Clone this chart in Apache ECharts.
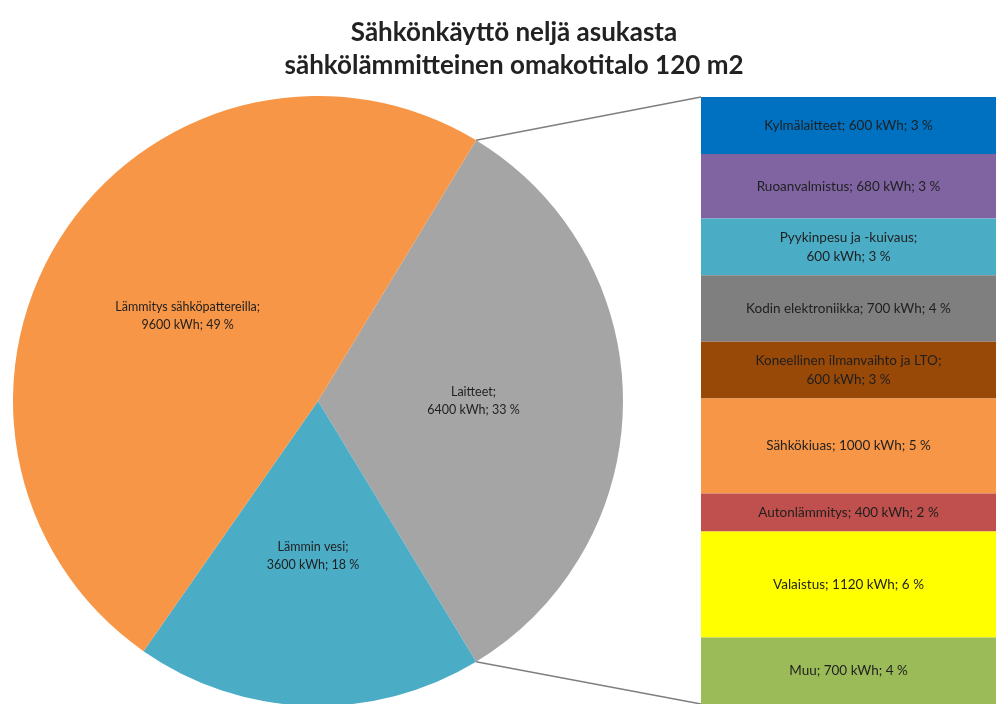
<!DOCTYPE html>
<html>
<head>
<meta charset="utf-8">
<script src="https://cdn.jsdelivr.net/npm/echarts@6/dist/echarts.min.js"></script>
<style>
html,body{margin:0;padding:0;background:#fff;}
#main{width:996px;height:704px;}
</style>
</head>
<body>
<div id="main"></div>
<script>
// ---- data ----
const titleLines = ['Sähkönkäyttö neljä asukasta', 'sähkölämmitteinen omakotitalo 120 m2'];
const pieNames = ['Laitteet', 'Lämmin vesi', 'Lämmitys sähköpattereilla'];
const pieValues = [6400, 3600, 9600];
const pieColors = ['#A5A5A5', '#4BACC6', '#F79646'];
const barNames = ['Kylmälaitteet', 'Ruoanvalmistus', 'Pyykinpesu ja -kuivaus', 'Kodin elektroniikka',
  'Koneellinen ilmanvaihto ja LTO', 'Sähkökiuas', 'Autonlämmitys', 'Valaistus', 'Muu'];
const barValues = [600, 680, 600, 700, 600, 1000, 400, 1120, 700];
const barColors = ['#0070C0', '#8064A2', '#4BACC6', '#7F7F7F', '#984807', '#F79646', '#C0504D', '#FFFF00', '#9BBB59'];

// ---- layout ----
const FONT = 'Lato, "Open Sans", sans-serif';
const pieCenter = [318, 401];
const pieRadius = 305;
const gridLeft = 701;

const total = pieValues.reduce((a, b) => a + b, 0);
const barTotal = barValues.reduce((a, b) => a + b, 0);
const halfAngle = pieValues[0] / total * 360 / 2;
const pct = v => Math.round(v / total * 100) + ' %';

const chart = echarts.init(document.getElementById('main'), null, {renderer: 'canvas'});

const barSeries = barNames.map((n, i) => ({
  type: 'bar',
  name: n,
  stack: 'laitteet',
  barWidth: '100%',
  barCategoryGap: '0%',
  data: [barValues[i]],
  itemStyle: {color: barColors[i]},
  silent: true,
  label: {
    show: true,
    position: 'inside',
    color: '#1f1f1f',
    fontFamily: FONT,
    fontSize: 13.5,
    lineHeight: 19,
    formatter: () => (n.length > 20 ? n + ';\n' : n + '; ') + barValues[i] + ' kWh; ' + pct(barValues[i])
  }
}));

const option = {
  animation: false,
  backgroundColor: '#fff',
  title: {
    text: titleLines.join('\n'),
    left: 509,
    textAlign: 'center',
    top: 11,
    textStyle: {fontFamily: FONT, fontWeight: 'bold', fontSize: 26, lineHeight: 33, color: '#222'}
  },
  grid: {left: gridLeft, right: 0, top: 97, bottom: -9},
  xAxis: {type: 'category', data: ['Laitteet'], show: false},
  yAxis: {type: 'value', min: 0, max: barTotal, inverse: true, show: false},
  series: [
    {
      type: 'pie',
      center: pieCenter,
      radius: pieRadius,
      startAngle: halfAngle,
      clockwise: true,
      silent: true,
      data: pieNames.map((n, i) => ({name: n, value: pieValues[i], itemStyle: {color: pieColors[i]}})),
      label: {
        show: true,
        position: 'inner',
        color: '#1f1f1f',
        fontFamily: FONT,
        fontSize: 12.5,
        lineHeight: 18,
        formatter: p => p.name + ';\n' + p.value + ' kWh; ' + pct(p.value)
      },
      labelLine: {show: false}
    }
  ].concat(barSeries)
};
chart.setOption(option);

// connector lines from the Laitteet slice edges to the bar's corners
const rad = halfAngle * Math.PI / 180;
const p1 = [pieCenter[0] + pieRadius * Math.cos(rad), pieCenter[1] - pieRadius * Math.sin(rad)];
const p2 = [pieCenter[0] + pieRadius * Math.cos(rad), pieCenter[1] + pieRadius * Math.sin(rad)];
const yTop = chart.convertToPixel({yAxisIndex: 0}, 0);
const yBot = chart.convertToPixel({yAxisIndex: 0}, barTotal);
chart.setOption({
  graphic: [
    {type: 'line', shape: {x1: p1[0], y1: p1[1], x2: gridLeft, y2: yTop}, style: {stroke: '#7f7f7f', lineWidth: 1.5}, silent: true, z: 10},
    {type: 'line', shape: {x1: p2[0], y1: p2[1], x2: gridLeft, y2: yBot}, style: {stroke: '#7f7f7f', lineWidth: 1.5}, silent: true, z: 10}
  ]
});
</script>
</body>
</html>
